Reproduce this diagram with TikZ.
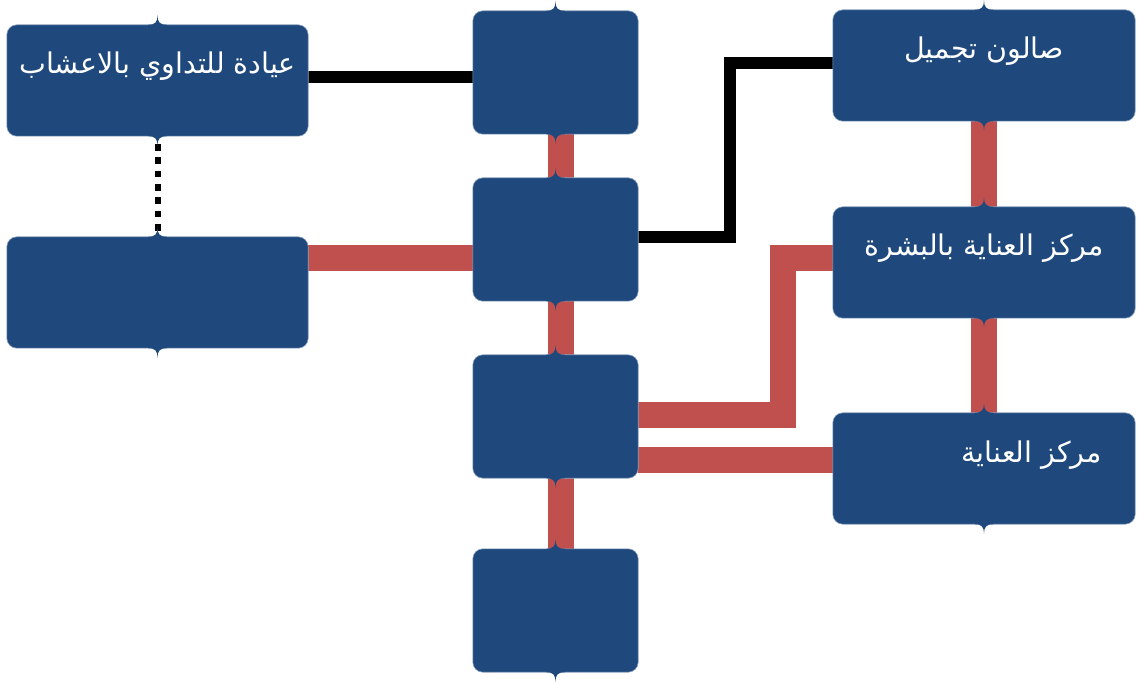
\documentclass[tikz,border=0pt]{standalone}
\usepackage{fontspec}
\usetikzlibrary{calc}
\TeXXeTstate=1
\newfontfamily\arabicfont[Script=Arabic]{DejaVu Sans}
\definecolor{boxblue}{HTML}{1F497D}
\definecolor{boxedge}{HTML}{8EA3C0}
\definecolor{linkred}{HTML}{C0504D}
\tikzset{
  boxst/.style={fill=boxblue, draw=boxedge, line width=0.6pt, rounded corners=10pt, inner sep=0pt},
  boxpos/.style={inner sep=0pt, draw=none, fill=none},
  txt/.style={text=white, inner sep=0pt, font=\arabicfont\fontsize{28.5}{32}\selectfont},
  blk/.style={draw=black, line width=12pt, line join=miter, line cap=butt},
  redl/.style={draw=linkred, line width=26pt, line join=miter, line cap=butt},
  dotl/.style={draw=black, line width=6pt, dash pattern=on 6.6pt off 6.7pt, dash phase=5.3pt}
}
\newcommand\bxnotch[1]{%
  \fill[boxblue] ($(#1.north)+(-9.5,1.2)$) -- ($(#1.north)+(-9.5,0)$)
    .. controls ($(#1.north)+(-2,0)$) and ($(#1.north)+(0,-3)$) .. ($(#1.north)+(0,-9.5)$)
    .. controls ($(#1.north)+(0,-3)$) and ($(#1.north)+(2,0)$) .. ($(#1.north)+(9.5,0)$)
    -- ($(#1.north)+(9.5,1.2)$) -- cycle;
  \fill[boxblue] ($(#1.south)+(-9.5,-1.2)$) -- ($(#1.south)+(-9.5,0)$)
    .. controls ($(#1.south)+(-2,0)$) and ($(#1.south)+(0,3)$) .. ($(#1.south)+(0,9.5)$)
    .. controls ($(#1.south)+(0,3)$) and ($(#1.south)+(2,0)$) .. ($(#1.south)+(9.5,0)$)
    -- ($(#1.south)+(9.5,-1.2)$) -- cycle;}
\begin{document}
\begin{tikzpicture}[x=1pt,y=-1pt]
\useasboundingbox (0,0) rectangle (1138,684);
% box placeholders (bodies drawn later over the connectors)
\path
  (157.5,80.5) node[boxpos, minimum width=301pt, minimum height=111pt] (A) {}
  (157.5,292.5) node[boxpos, minimum width=301pt, minimum height=111pt] (B) {}
  (555.5,72.5) node[boxpos, minimum width=165pt, minimum height=123pt] (C1) {}
  (555.5,239.5) node[boxpos, minimum width=165pt, minimum height=123pt] (C2) {}
  (555.5,416.5) node[boxpos, minimum width=165pt, minimum height=123pt] (C3) {}
  (555.5,610.5) node[boxpos, minimum width=165pt, minimum height=123pt] (C4) {}
  (984,65.5) node[boxpos, minimum width=302pt, minimum height=111pt] (R1) {}
  (984,262.5) node[boxpos, minimum width=302pt, minimum height=111pt] (R2) {}
  (984,468.5) node[boxpos, minimum width=302pt, minimum height=111pt] (R3) {};
% helper coordinates
\coordinate (h63) at (0,63);
\coordinate (h77) at (0,77);
\coordinate (h237) at (0,237);
\coordinate (h258) at (0,258);
\coordinate (h415) at (0,415);
\coordinate (h460) at (0,460);
\coordinate (v561) at (561,0);
\coordinate (v730) at (730,0);
\coordinate (v783) at (783,0);
% connectors
\draw[blk] (A.east |- h77) -- (C1.west |- h77);
\draw[blk] (C2.east |- h237) -- (v730 |- h237) -- (v730 |- h63) -- (R1.west |- h63);
\draw[dotl] (A.south) -- (B.north);
\draw[redl] (B.east |- h258) -- (C2.west |- h258);
\draw[redl] (C1.south -| v561) -- (C2.north -| v561);
\draw[redl] (C2.south -| v561) -- (C3.north -| v561);
\draw[redl] (C3.south -| v561) -- (C4.north -| v561);
\draw[redl] (R1.south) -- (R2.north);
\draw[redl] (R2.south) -- (R3.north);
\draw[redl] (C3.east |- h415) -- (v783 |- h415) -- (v783 |- h258) -- (R2.west |- h258);
\draw[redl] (C3.east |- h460) -- (R3.west |- h460);
% box bodies
\foreach \n in {A,B,C1,C2,C3,C4,R1,R2,R3}{
  \draw[boxst] (\n.south west) rectangle (\n.north east);
  \bxnotch{\n}
}
% texts
\node[txt] (tA) at ($(A.north)+(0,41)$) {\beginR عيادة للتداوي بالاعشاب\endR};
\node[txt] (tR1) at ($(R1.north)+(0,41)$) {\beginR صالون تجميل\endR};
\node[txt] (tR2) at ($(R2.north)+(0,41)$) {\beginR مركز العناية بالبشرة\endR};
\node[txt, anchor=east] (tR3) at ($(R3.north)+(118,42)$) {\beginR مركز العناية\endR};
\end{tikzpicture}
\end{document}
